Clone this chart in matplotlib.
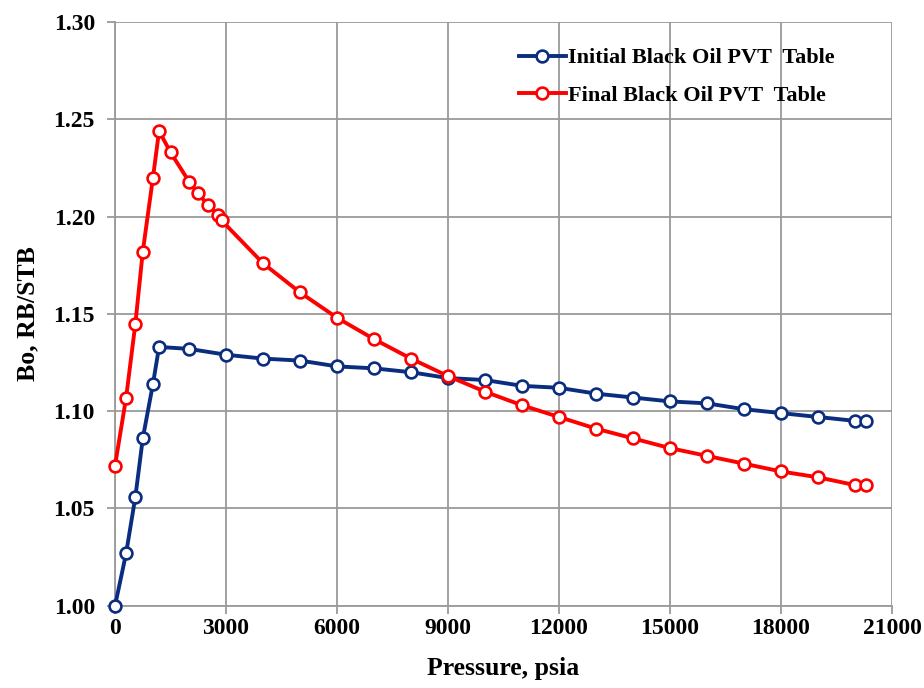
"""Bo vs pressure for initial and final black-oil PVT tables."""

import matplotlib

matplotlib.use("Agg")
import matplotlib.pyplot as plt

# pressure, psia
initial_p = [0, 300, 550, 750, 1025, 1190, 2000, 3000, 4000, 5000, 6000, 7000,
             8000, 9000, 10000, 11000, 12000, 13000, 14000, 15000, 16000,
             17000, 18000, 19000, 20000, 20300]
initial_bo = [1.000, 1.027, 1.056, 1.086, 1.114, 1.133, 1.132, 1.129, 1.127,
              1.126, 1.123, 1.122, 1.120, 1.117, 1.116, 1.113, 1.112, 1.109,
              1.107, 1.105, 1.104, 1.101, 1.099, 1.097, 1.095, 1.095]

final_p = [0, 300, 550, 750, 1025, 1190, 1500, 2000, 2250, 2500, 2780, 2880,
           4000, 5000, 6000, 7000, 8000, 9000, 10000, 11000, 12000, 13000,
           14000, 15000, 16000, 17000, 18000, 19000, 20000, 20300]
final_bo = [1.072, 1.107, 1.145, 1.182, 1.220, 1.244, 1.233, 1.218, 1.212,
            1.206, 1.201, 1.198, 1.176, 1.161, 1.148, 1.137, 1.127, 1.118,
            1.110, 1.103, 1.097, 1.091, 1.086, 1.081, 1.077, 1.073, 1.069,
            1.066, 1.062, 1.062]

x_ticks = [0, 3000, 6000, 9000, 12000, 15000, 18000, 21000]
y_ticks = [1.00, 1.05, 1.10, 1.15, 1.20, 1.25, 1.30]

BLUE = "#0b2d80"
RED = "#ff0000"
GRID = "#9a9a9a"
FONT = "Liberation Serif"


def main() -> None:
    plt.rcParams["font.family"] = FONT
    plt.rcParams["font.weight"] = "bold"

    fig = plt.figure(figsize=(9.24, 6.88), dpi=100)
    ax = fig.add_axes([0.1245, 0.1196, 0.8409, 0.8484])

    common = dict(
        linewidth=2.8,
        marker="o",
        markersize=8.5,
        markerfacecolor="white",
        markeredgewidth=1.9,
        zorder=3,
        clip_on=False,
    )
    ax.plot(initial_p, initial_bo, color=BLUE, markeredgecolor=BLUE,
            label="Initial Black Oil PVT  Table", **common)
    ax.plot(final_p, final_bo, color=RED, markeredgecolor=RED,
            label="Final Black Oil PVT  Table", **common)

    ax.set_xlim(0, 21000)
    ax.set_ylim(1.0, 1.3)
    ax.set_xticks(x_ticks)
    ax.set_yticks(y_ticks)
    ax.set_xticklabels([str(t) for t in x_ticks])
    ax.set_yticklabels([f"{t:.2f}" for t in y_ticks])
    ax.grid(True, color=GRID, linewidth=1.3)
    ax.set_axisbelow(True)
    for side in ["top", "right"]:
        ax.spines[side].set_visible(False)
    for side in ["left", "bottom"]:
        ax.spines[side].set_color(GRID)
        ax.spines[side].set_linewidth(1.3)
    ax.tick_params(axis="both", colors=GRID, length=5.5, width=1.3,
                   labelsize=17, labelcolor="black")
    ax.tick_params(axis="y", pad=9)
    ax.tick_params(axis="x", pad=3)

    ax.set_xlabel("Pressure, psia", fontsize=18.5, fontweight="bold", labelpad=13)
    ax.set_ylabel("Bo, RB/STB", fontsize=18.5, fontweight="bold", labelpad=10)

    ax.legend(
        loc="upper left",
        bbox_to_anchor=(0.494, 0.99),
        frameon=False,
        handlelength=2.1,
        handletextpad=0.1,
        labelspacing=0.75,
        prop={"family": FONT, "weight": "bold", "size": 16},
    )

    fig.savefig("out.png", dpi=100)


if __name__ == "__main__":
    main()
